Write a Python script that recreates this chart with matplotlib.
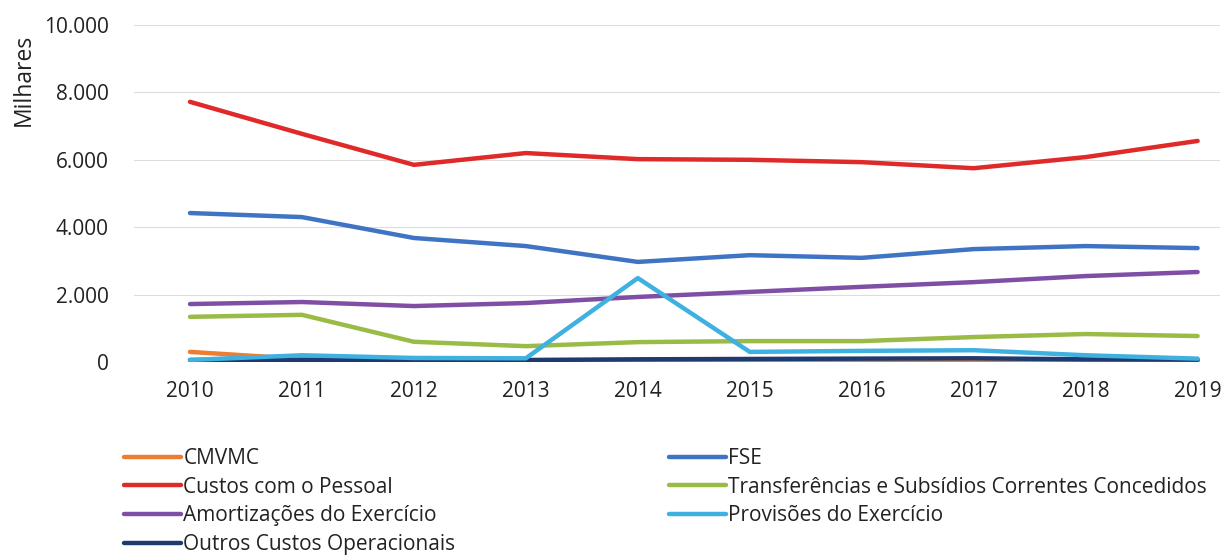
import matplotlib
matplotlib.use("Agg")
import matplotlib.pyplot as plt
from matplotlib.ticker import FuncFormatter

years = ["2010", "2011", "2012", "2013", "2014", "2015", "2016", "2017", "2018", "2019"]
cmvmc = [300, 90, 50, 40, 30, 30, 30, 30, 20, 20]
fse = [4420, 4300, 3680, 3440, 2970, 3170, 3090, 3350, 3440, 3380]
custos_pessoal = [7720, 6770, 5850, 6200, 6020, 6000, 5930, 5750, 6080, 6560]
transferencias = [1340, 1400, 600, 470, 590, 620, 620, 740, 830, 770]
amortizacoes = [1720, 1780, 1660, 1750, 1930, 2080, 2230, 2370, 2550, 2670]
provisoes = [60, 200, 120, 110, 2490, 300, 330, 350, 200, 100]
outros = [60, 60, 60, 60, 80, 90, 100, 110, 80, 70]

yticks = [0, 2000, 4000, 6000, 8000, 10000]

plt.rcParams['font.family'] = ['Open Sans', 'DejaVu Sans']

fig = plt.figure(figsize=(12.23, 5.56), dpi=100)
ax = fig.add_axes([134/1223, 194/556, (1220 - 134)/1223, 337/556])

x = list(range(len(years)))
series = [
    ("CMVMC", cmvmc, "#ED7D31"),
    ("Custos com o Pessoal", custos_pessoal, "#E02A2A"),
    ("Amortizações do Exercício", amortizacoes, "#7F4FA6"),
    ("Outros Custos Operacionais", outros, "#1F3A6E"),
    ("FSE", fse, "#3F74C4"),
    ("Transferências e Subsídios Correntes Concedidos", transferencias, "#9BBB47"),
    ("Provisões do Exercício", provisoes, "#3EB1E0"),
]
draw_order = [1, 4, 2, 5, 6, 0, 3]
handles = {}
for i in draw_order:
    name, vals, col = series[i]
    ln, = ax.plot(x, vals, color=col, lw=3.2, solid_capstyle='round', label=name, zorder=3 + i * 0.01)
    handles[i] = ln

ax.set_ylim(0, 10000)
ax.set_xlim(-0.5, 9.2)
ax.set_yticks(yticks)
ax.yaxis.set_major_formatter(FuncFormatter(lambda v, p: f"{int(v):,}".replace(",", ".")))
ax.set_xticks(x)
ax.set_xticklabels(years)
ax.tick_params(axis='both', length=0, labelsize=15, colors='#222222')
ax.tick_params(axis='x', pad=14)
ax.tick_params(axis='y', pad=18)
ax.grid(axis='y', color='#dddddd', lw=0.8)
ax.set_axisbelow(True)
for s in ax.spines.values():
    s.set_visible(False)

fig.text(24/1223, 1 - 80/556, "Milhares", rotation=90, ha='center', va='center', fontsize=16.5, color='#222222')

kw = dict(loc='upper left', frameon=False, fontsize=15, handlelength=2.75, handletextpad=0.1,
          borderpad=0, labelspacing=0.37, borderaxespad=0)
leg1 = fig.legend([handles[i] for i in [0, 1, 2, 3]], [series[i][0] for i in [0, 1, 2, 3]],
                  bbox_to_anchor=(124/1223, 1 - 448/556), **kw)
leg2 = fig.legend([handles[i] for i in [4, 5, 6]], [series[i][0] for i in [4, 5, 6]],
                  bbox_to_anchor=(669/1223, 1 - 448/556), **kw)
for lg in (leg1, leg2):
    for t in lg.get_texts():
        t.set_color('#222222')

fig.savefig("out.png", dpi=100)
